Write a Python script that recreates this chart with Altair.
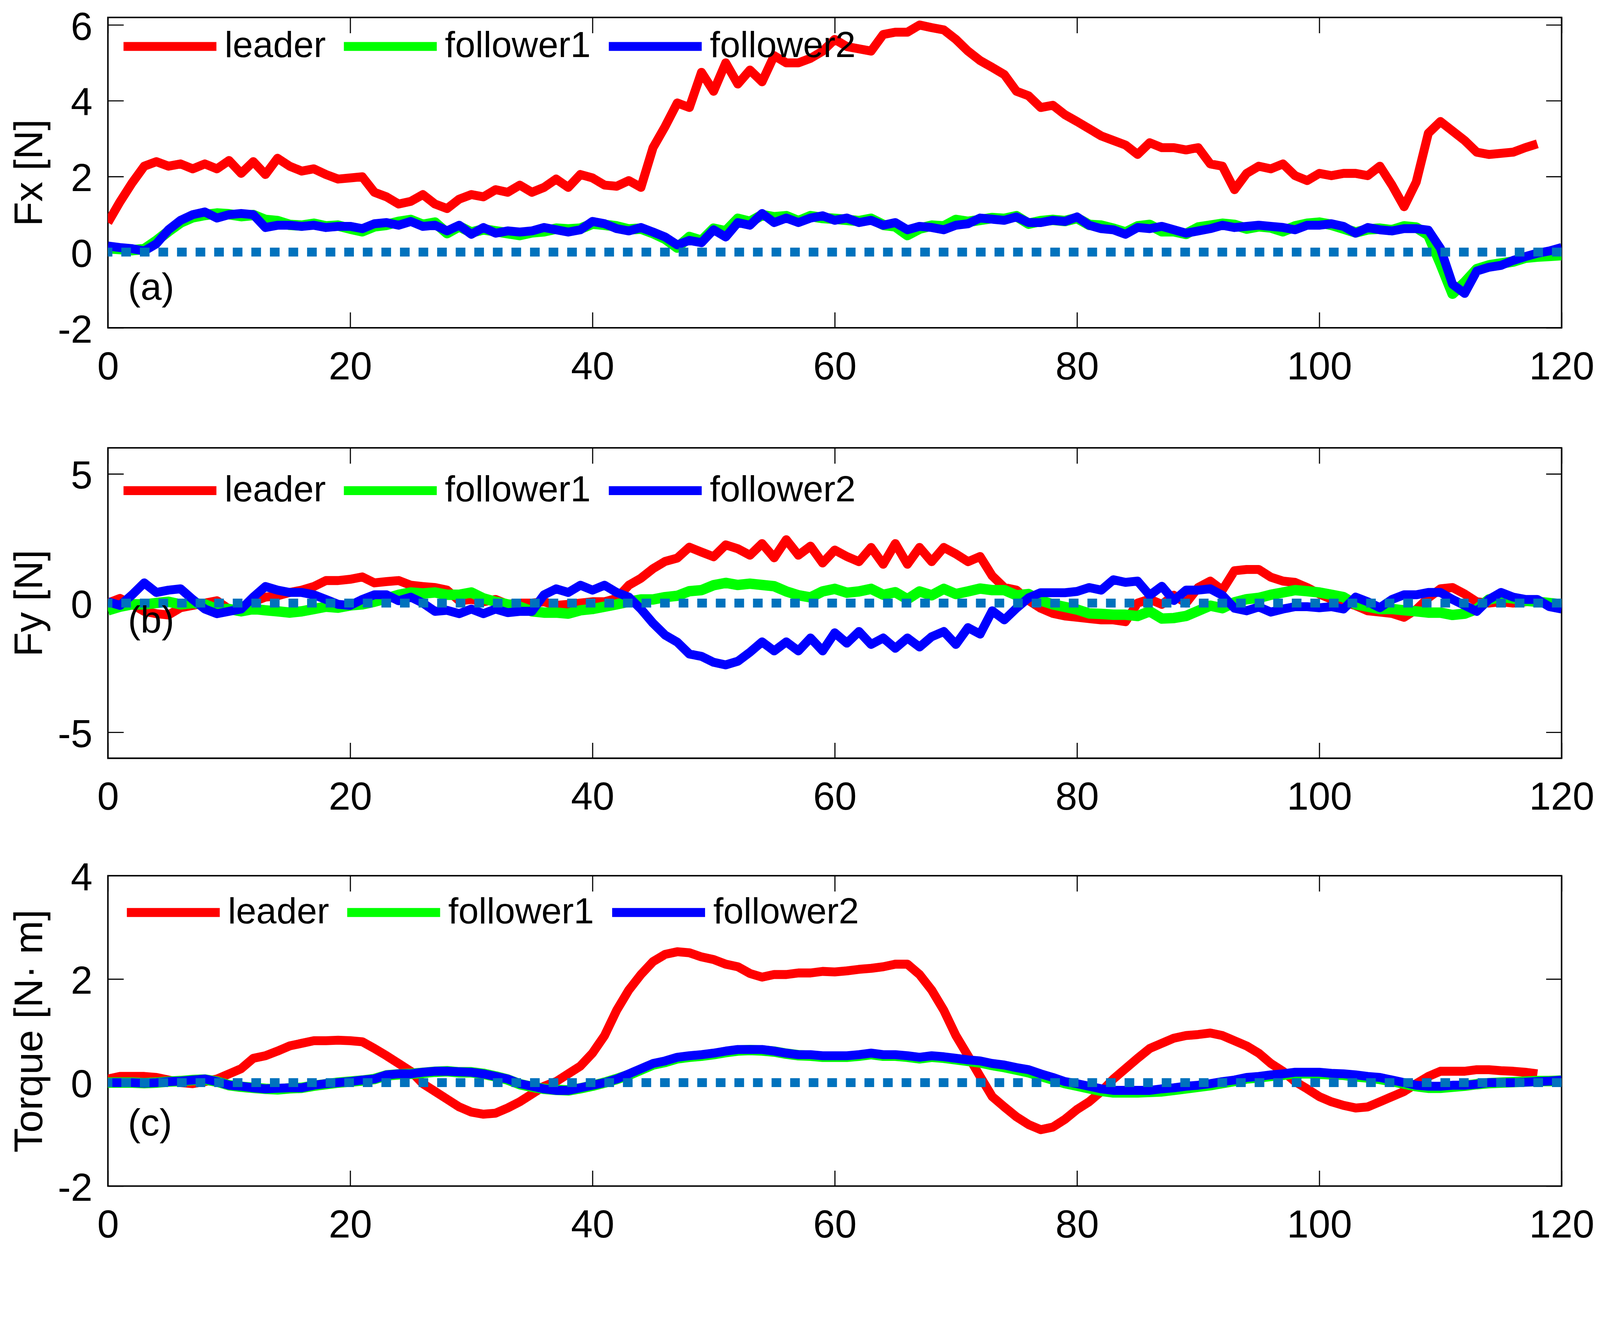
import altair as alt
import pandas as pd

FONT = "Liberation Sans"
SERIES = ["leader", "follower1", "follower2"]
COLORS = ["#FF0000", "#00FF00", "#0000FF"]
ZERO_COLOR = "#0072BD"
X_TICKS = [0, 20, 40, 60, 80, 100, 120]

# ---------------- Panel (a): Fx [N] ----------------
fx_leader = [0.78, 1.33, 1.83, 2.27, 2.39, 2.27, 2.33, 2.2, 2.33, 2.2,
             2.42, 2.08, 2.39, 2.05, 2.48, 2.27, 2.14, 2.2, 2.05, 1.93,
             1.96, 1.99, 1.58, 1.46, 1.27, 1.34, 1.52, 1.27, 1.15, 1.4,
             1.52, 1.46, 1.65, 1.58, 1.77, 1.58, 1.71, 1.93, 1.71, 2.05,
             1.96, 1.77, 1.74, 1.89, 1.71, 2.76, 3.32, 3.94, 3.82, 4.75,
             4.25, 5.0, 4.44, 4.81, 4.5, 5.19, 5.0, 5.0, 5.12, 5.31,
             5.62, 5.43, 5.37, 5.31, 5.75, 5.81, 5.81, 6.0, 5.93, 5.87,
             5.62, 5.31, 5.06, 4.88, 4.69, 4.25, 4.13, 3.82, 3.88, 3.63,
             3.45, 3.26, 3.07, 2.95, 2.83, 2.58, 2.89, 2.76, 2.76, 2.7,
             2.76, 2.33, 2.27, 1.65, 2.08, 2.27, 2.2, 2.33, 2.02, 1.89,
             2.08, 2.02, 2.08, 2.08, 2.02, 2.27, 1.77, 1.2, 1.85, 3.14,
             3.45, 3.2, 2.95, 2.64, 2.58, 2.61, 2.64, 2.76, 2.86]
fx_follower1 = [0.1, 0.08, 0.05, 0.08, 0.3, 0.55, 0.78, 0.92, 0.98, 1.02,
                1.0, 0.95, 0.98, 0.85, 0.82, 0.72, 0.7, 0.75, 0.68, 0.7,
                0.62, 0.55, 0.68, 0.72, 0.8, 0.85, 0.72, 0.78, 0.5, 0.68,
                0.52, 0.6, 0.55, 0.5, 0.45, 0.52, 0.55, 0.62, 0.6, 0.62,
                0.75, 0.72, 0.68, 0.6, 0.62, 0.5, 0.35, 0.12, 0.4, 0.3,
                0.62, 0.55, 0.88, 0.8, 0.98, 0.92, 0.95, 0.82, 0.95, 0.9,
                0.88, 0.85, 0.82, 0.88, 0.72, 0.68, 0.45, 0.62, 0.7, 0.68,
                0.85, 0.8, 0.85, 0.9, 0.88, 0.95, 0.75, 0.82, 0.85, 0.82,
                0.9, 0.72, 0.7, 0.62, 0.52, 0.68, 0.72, 0.55, 0.55, 0.48,
                0.65, 0.7, 0.75, 0.72, 0.62, 0.68, 0.65, 0.55, 0.68, 0.75,
                0.78, 0.72, 0.62, 0.52, 0.6, 0.62, 0.58, 0.68, 0.65, 0.45,
                -0.3, -1.1, -0.8, -0.45, -0.35, -0.3, -0.25, -0.15, -0.12, -0.1,
                -0.08]
fx_follower2 = [0.16, 0.12, 0.09, 0.03, 0.22, 0.59, 0.84, 0.99, 1.06, 0.9,
                0.99, 1.02, 0.99, 0.65, 0.71, 0.71, 0.68, 0.71, 0.65, 0.68,
                0.68, 0.62, 0.75, 0.78, 0.71, 0.81, 0.68, 0.71, 0.56, 0.71,
                0.47, 0.65, 0.5, 0.56, 0.53, 0.56, 0.65, 0.59, 0.53, 0.59,
                0.81, 0.75, 0.62, 0.56, 0.65, 0.53, 0.4, 0.19, 0.31, 0.25,
                0.59, 0.4, 0.78, 0.71, 1.02, 0.78, 0.9, 0.78, 0.9, 0.96,
                0.84, 0.9, 0.78, 0.84, 0.71, 0.78, 0.59, 0.68, 0.65, 0.59,
                0.71, 0.75, 0.9, 0.87, 0.84, 0.93, 0.78, 0.78, 0.84, 0.81,
                0.93, 0.71, 0.62, 0.59, 0.47, 0.65, 0.62, 0.68, 0.59, 0.5,
                0.56, 0.62, 0.71, 0.65, 0.68, 0.71, 0.68, 0.65, 0.59, 0.71,
                0.71, 0.75, 0.68, 0.5, 0.65, 0.59, 0.56, 0.62, 0.62, 0.58,
                0.1, -0.85, -1.09, -0.5, -0.4, -0.35, -0.22, -0.12, -0.03, 0.03,
                0.12]

# ---------------- Panel (b): Fy [N] ----------------
fy_leader = [0.0, 0.18, -0.05, -0.32, -0.41, -0.46, -0.18, -0.09, 0.0, 0.09,
             -0.23, -0.32, 0.05, 0.23, 0.28, 0.41, 0.5, 0.64, 0.87, 0.87,
             0.92, 1.01, 0.78, 0.83, 0.87, 0.69, 0.64, 0.6, 0.5, 0.09,
             0.14, 0.05, 0.14, -0.05, 0.0, 0.0, 0.05, -0.09, -0.05, 0.0,
             0.05, 0.05, 0.18, 0.69, 0.96, 1.33, 1.61, 1.74, 2.16, 1.97,
             1.79, 2.25, 2.1, 1.85, 2.3, 1.75, 2.45, 1.85, 2.2, 1.55,
             2.05, 1.8, 1.6, 2.15, 1.5, 2.3, 1.5, 2.15, 1.6, 2.15,
             1.9, 1.6, 1.8, 1.05, 0.6, 0.5, 0.1, -0.2, -0.4, -0.5,
             -0.55, -0.6, -0.65, -0.65, -0.72, 0.0, 0.15, -0.05, 0.3, 0.0,
             0.6, 0.85, 0.5, 1.25, 1.3, 1.3, 1.0, 0.85, 0.8, 0.6,
             0.35, 0.15, 0.05, -0.1, -0.3, -0.35, -0.4, -0.55, -0.25, 0.2,
             0.55, 0.6, 0.35, 0.05, 0.0, 0.05, 0.0, 0.05, 0.1]
fy_follower1 = [-0.28, -0.14, -0.05, -0.05, 0.0, 0.05, -0.05, 0.0, -0.05, -0.23,
                -0.23, -0.32, -0.23, -0.28, -0.32, -0.37, -0.32, -0.23, -0.14, -0.18,
                -0.09, -0.05, 0.05, 0.18, 0.32, 0.41, 0.37, 0.41, 0.32, 0.32,
                0.41, 0.18, 0.05, -0.05, -0.14, -0.32, -0.37, -0.37, -0.41, -0.28,
                -0.23, -0.14, -0.05, 0.05, 0.14, 0.14, 0.23, 0.28, 0.46, 0.5,
                0.69, 0.78, 0.7, 0.75, 0.7, 0.65, 0.45, 0.3, 0.22, 0.45,
                0.55, 0.4, 0.45, 0.55, 0.32, 0.42, 0.15, 0.45, 0.3, 0.55,
                0.35, 0.45, 0.56, 0.5, 0.5, 0.3, 0.35, 0.1, -0.05, -0.15,
                -0.25, -0.4, -0.42, -0.45, -0.45, -0.5, -0.32, -0.6, -0.58, -0.5,
                -0.3, -0.1, -0.2, 0.03, 0.15, 0.2, 0.32, 0.41, 0.5, 0.46,
                0.41, 0.32, 0.23, -0.05, -0.14, -0.23, -0.23, -0.28, -0.32, -0.37,
                -0.37, -0.46, -0.41, -0.23, 0.14, 0.23, 0.18, 0.09, 0.05, 0.0,
                -0.05]
fy_follower2 = [0.05, -0.09, 0.32, 0.78, 0.41, 0.5, 0.55, 0.14, -0.23, -0.41,
                -0.32, -0.23, 0.23, 0.64, 0.5, 0.41, 0.41, 0.32, 0.14, -0.05,
                -0.09, 0.14, 0.32, 0.32, 0.09, 0.23, 0.0, -0.32, -0.28, -0.41,
                -0.23, -0.41, -0.23, -0.37, -0.32, -0.32, 0.32, 0.55, 0.41, 0.69,
                0.5, 0.69, 0.41, 0.23, -0.23, -0.78, -1.24, -1.51, -1.97, -2.06,
                -2.29, -2.39, -2.25, -1.9, -1.5, -1.85, -1.5, -1.85, -1.35, -1.85,
                -1.15, -1.55, -1.1, -1.6, -1.35, -1.75, -1.35, -1.7, -1.3, -1.1,
                -1.6, -0.95, -1.2, -0.3, -0.65, -0.2, 0.2, 0.4, 0.4, 0.4,
                0.45, 0.6, 0.5, 0.9, 0.8, 0.85, 0.3, 0.65, 0.1, 0.5,
                0.5, 0.55, 0.3, -0.2, -0.3, -0.15, -0.35, -0.23, -0.14, -0.14,
                -0.18, -0.14, -0.23, 0.23, 0.05, -0.18, 0.14, 0.32, 0.32, 0.41,
                0.41, 0.14, -0.09, -0.32, 0.14, 0.41, 0.23, 0.14, 0.14, -0.14,
                -0.23]

# ---------------- Panel (c): Torque [N·m] ----------------
tq_leader = [0.07, 0.12, 0.12, 0.12, 0.1, 0.05, 0.0, -0.02, 0.02, 0.07,
             0.17, 0.27, 0.47, 0.52, 0.61, 0.71, 0.76, 0.81, 0.81, 0.82,
             0.81, 0.79, 0.66, 0.52, 0.37, 0.22, -0.02, -0.17, -0.32, -0.47,
             -0.57, -0.61, -0.59, -0.49, -0.37, -0.22, -0.07, 0.02, 0.17, 0.32,
             0.57, 0.91, 1.4, 1.79, 2.09, 2.34, 2.48, 2.53, 2.51, 2.43,
             2.38, 2.29, 2.24, 2.11, 2.04, 2.09, 2.09, 2.12, 2.12, 2.15,
             2.14, 2.16, 2.19, 2.21, 2.24, 2.29, 2.29, 2.09, 1.79, 1.4,
             0.91, 0.52, 0.12, -0.27, -0.47, -0.66, -0.81, -0.91, -0.86, -0.71,
             -0.52, -0.37, -0.17, 0.07, 0.27, 0.47, 0.66, 0.76, 0.86, 0.91,
             0.93, 0.96, 0.91, 0.81, 0.71, 0.57, 0.37, 0.22, 0.02, -0.12,
             -0.27, -0.37, -0.44, -0.49, -0.47, -0.37, -0.27, -0.17, -0.02, 0.12,
             0.22, 0.22, 0.22, 0.25, 0.25, 0.23, 0.22, 0.2, 0.17]
tq_follower1 = [0.0, 0.0, 0.0, -0.01, 0.0, 0.02, 0.03, 0.05, 0.06, 0.02,
                -0.05, -0.08, -0.1, -0.12, -0.13, -0.11, -0.1, -0.06, -0.03, 0.0,
                0.02, 0.04, 0.07, 0.14, 0.16, 0.17, 0.19, 0.21, 0.22, 0.2,
                0.2, 0.17, 0.12, 0.06, -0.03, -0.08, -0.12, -0.14, -0.15, -0.11,
                -0.06, 0.0, 0.07, 0.15, 0.25, 0.35, 0.4, 0.47, 0.5, 0.52,
                0.55, 0.59, 0.62, 0.63, 0.62, 0.6, 0.56, 0.53, 0.52, 0.5,
                0.5, 0.5, 0.52, 0.55, 0.52, 0.52, 0.5, 0.47, 0.5, 0.48,
                0.45, 0.42, 0.39, 0.34, 0.3, 0.25, 0.2, 0.13, 0.06, -0.01,
                -0.06, -0.11, -0.16, -0.19, -0.19, -0.19, -0.18, -0.17, -0.14, -0.11,
                -0.08, -0.05, -0.01, 0.03, 0.08, 0.1, 0.13, 0.15, 0.18, 0.18,
                0.17, 0.16, 0.15, 0.12, 0.1, 0.07, 0.03, -0.02, -0.07, -0.1,
                -0.1, -0.08, -0.06, -0.03, -0.01, 0.0, 0.01, 0.02, 0.03, 0.03,
                0.04]
tq_follower2 = [0.0, 0.0, 0.0, -0.01, 0.0, 0.02, 0.03, 0.05, 0.07, 0.02,
                -0.05, -0.07, -0.1, -0.12, -0.11, -0.1, -0.1, -0.05, -0.02, 0.0,
                0.02, 0.05, 0.07, 0.15, 0.17, 0.17, 0.2, 0.22, 0.22, 0.21,
                0.2, 0.17, 0.12, 0.07, -0.02, -0.07, -0.12, -0.15, -0.15, -0.1,
                -0.05, 0.0, 0.07, 0.17, 0.27, 0.37, 0.42, 0.49, 0.52, 0.54,
                0.57, 0.61, 0.64, 0.64, 0.64, 0.61, 0.57, 0.54, 0.54, 0.52,
                0.52, 0.52, 0.54, 0.57, 0.54, 0.54, 0.52, 0.49, 0.52, 0.5,
                0.47, 0.44, 0.42, 0.37, 0.34, 0.29, 0.25, 0.17, 0.1, 0.02,
                -0.02, -0.07, -0.12, -0.15, -0.15, -0.15, -0.15, -0.12, -0.1, -0.07,
                -0.05, -0.02, 0.02, 0.05, 0.1, 0.12, 0.15, 0.17, 0.2, 0.2,
                0.2, 0.18, 0.17, 0.15, 0.12, 0.1, 0.05, 0.0, -0.05, -0.07,
                -0.07, -0.05, -0.05, -0.03, 0.0, 0.0, 0.0, 0.01, 0.02, 0.03,
                0.05]

PANEL_LABELS = ["(a)", "(b)", "(c)"]
Y_TITLES = ["Fx [N]", "Fy [N]", "Torque [N· m]"]
Y_DOMAINS = [[-2, 6.2], [-6, 6], [-2, 4]]
Y_TICKS = [[-2, 0, 2, 4, 6], [-5, 0, 5], [-2, 0, 2, 4]]
LABEL_Y = [-0.95, -0.7, -0.8]
LEGEND_POS = [(105, 16), (105, 53), (114, 37)]

W, H = 3912, 835
TICK = 42


def series_df(vals, name):
    return pd.DataFrame({"t": list(range(len(vals))), "v": vals, "s": name})


def panel(idx, leader, f1, f2):
    xs = alt.Scale(domain=[0, 120], nice=False, zero=False)
    ys = alt.Scale(domain=Y_DOMAINS[idx], nice=False, zero=False)
    cs = alt.Scale(domain=SERIES, range=COLORS)

    x_bottom = alt.Axis(orient="bottom", values=X_TICKS, offset=-TICK, tickSize=TICK,
                        tickWidth=3, tickColor="black", domain=False, grid=False,
                        labelFontSize=105, labelFont=FONT, labelColor="black",
                        labelPadding=55, labelFlush=False, labelOverlap=False,
                        labelExpr="datum.value", title=None)
    y_left = alt.Axis(orient="left", values=Y_TICKS[idx], offset=-TICK, tickSize=TICK,
                      tickWidth=3, tickColor="black", domain=False, grid=False,
                      labelFontSize=105, labelFont=FONT, labelColor="black",
                      labelPadding=42, labelOffset=7, labelFlush=False,
                      labelOverlap=False, labelExpr="datum.value",
                      title=Y_TITLES[idx], titleFontSize=108, titleFont=FONT,
                      titleFontWeight="normal", titleColor="black", titlePadding=19)
    x_top = alt.Axis(orient="top", values=X_TICKS, offset=-TICK, tickSize=TICK,
                     tickWidth=3, tickColor="black", domain=False, grid=False,
                     labels=False, title=None)
    y_right = alt.Axis(orient="right", values=Y_TICKS[idx], offset=-TICK, tickSize=TICK,
                       tickWidth=3, tickColor="black", domain=False, grid=False,
                       labels=False, title=None, minExtent=0)

    lx, ly = LEGEND_POS[idx]
    legend = alt.Legend(orient="none", legendX=lx, legendY=ly, direction="horizontal",
                        title=None, symbolType="M-2.5,0H2.5", symbolSize=10000,
                        symbolStrokeWidth=24, labelFontSize=98, labelFont=FONT,
                        labelColor="black", labelOffset=85, labelLimit=0,
                        columnPadding=0, padding=0)

    red = alt.Chart(series_df(leader, "leader")).mark_line(
        strokeWidth=24, clip=True, strokeJoin="round").encode(
        x=alt.X("t:Q", scale=xs, axis=x_bottom),
        y=alt.Y("v:Q", scale=ys, axis=y_left),
        color=alt.Color("s:N", scale=cs, legend=legend),
    )
    green = alt.Chart(series_df(f1, "follower1")).mark_line(
        strokeWidth=28, clip=True, strokeJoin="round").encode(
        x=alt.X("t:Q", scale=xs, axis=None),
        y=alt.Y("v:Q", scale=ys, axis=None),
        color=alt.Color("s:N", scale=cs, legend=None),
    )
    blue = alt.Chart(series_df(f2, "follower2")).mark_line(
        strokeWidth=24, clip=True, strokeJoin="round").encode(
        x=alt.X("t:Q", scale=xs, axis=None),
        y=alt.Y("v:Q", scale=ys, axis=None),
        color=alt.Color("s:N", scale=cs, legend=None),
    )
    zero = alt.Chart(pd.DataFrame({"z": [0]})).mark_rule(
        color=ZERO_COLOR, strokeWidth=24, strokeDash=[26, 24], strokeCap="butt").encode(
        y=alt.Y("z:Q", scale=ys, axis=None),
    )
    lab = alt.Chart(pd.DataFrame({"t": [1.65], "v": [LABEL_Y[idx]],
                                  "txt": [PANEL_LABELS[idx]]})).mark_text(
        align="left", baseline="middle", fontSize=102, font=FONT, color="black").encode(
        x=alt.X("t:Q", scale=xs, axis=x_top),
        y=alt.Y("v:Q", scale=ys, axis=y_right),
        text="txt:N",
    )
    return alt.layer(red, green, blue, zero, lab).properties(width=W, height=H)


pa = panel(0, fx_leader, fx_follower1, fx_follower2)
pb = panel(1, fy_leader, fy_follower1, fy_follower2)
pc = panel(2, tq_leader, tq_follower1, tq_follower2)

inner = alt.vconcat(pa, pb, spacing=158).resolve_scale(
    color="independent").resolve_legend(color="independent")

chart = alt.vconcat(inner, pc, spacing=108).resolve_scale(
    color="independent").resolve_legend(color="independent").properties(
    padding={"left": 16, "top": -72, "right": 5, "bottom": 0}
).configure(
    font=FONT, background="white"
).configure_view(
    stroke="black", strokeWidth=4
)

chart.save("out.html", embed_options={"renderer": "svg", "actions": False})
